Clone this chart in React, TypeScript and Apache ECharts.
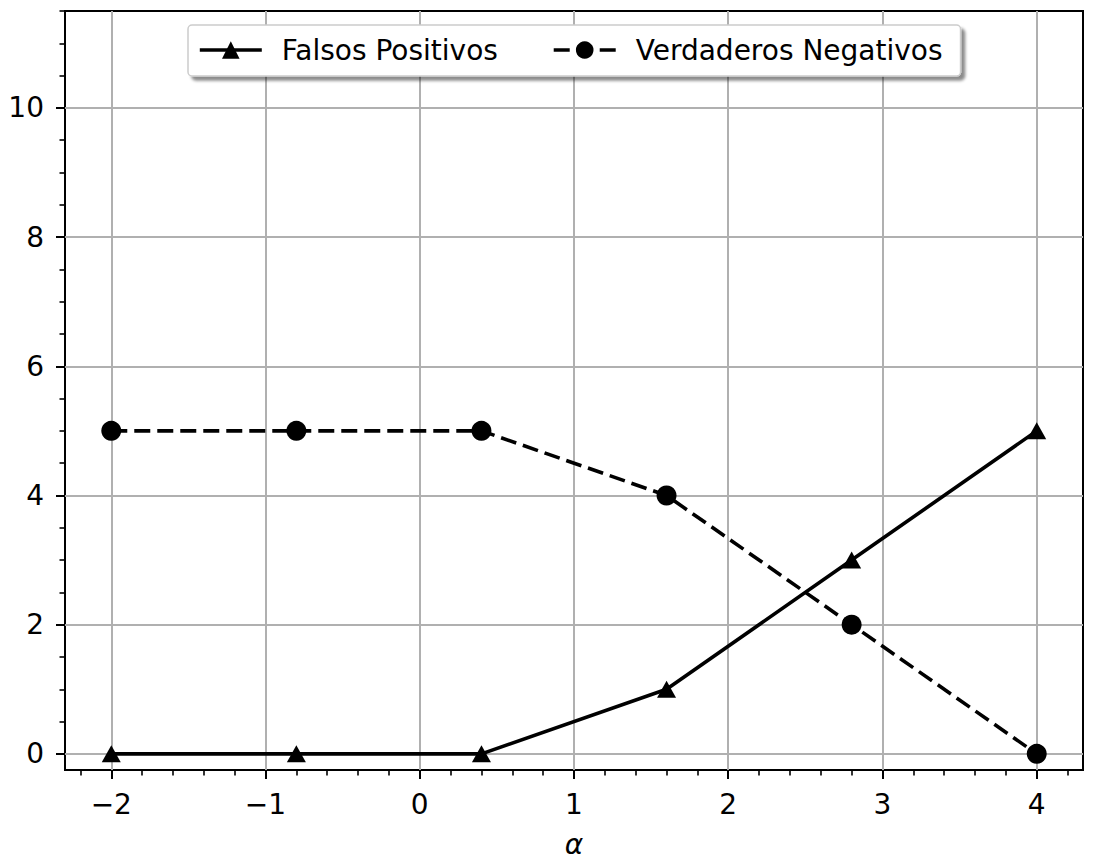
import { useEffect, useRef } from 'react';
import * as echarts from 'echarts';

// alpha values and counts
const alphas = [-2, -0.8, 0.4, 1.6, 2.8, 4];
const falsosPositivos = [0, 0, 0, 1, 3, 5];
const verdaderosNegativos = [5, 5, 5, 4, 2, 0];

const xMajor = [-2, -1, 0, 1, 2, 3, 4];
const xMinor = [-2.2, -1.8, -1.6, -1.4, -1.2, -0.8, -0.6, -0.4, -0.2, 0.2, 0.4, 0.6, 0.8,
  1.2, 1.4, 1.6, 1.8, 2.2, 2.4, 2.6, 2.8, 3.2, 3.4, 3.6, 3.8, 4.2];
const yMajor = [0, 2, 4, 6, 8, 10];
const yMinor = [0.5, 1, 1.5, 2.5, 3, 3.5, 4.5, 5, 5.5, 6.5, 7, 7.5, 8.5, 9, 9.5,
  10.5, 11, 11.5];

const FONT = 'DejaVu Sans';
const FS = 28;
const fmt = (v: number) => (v < 0 ? '\u2212' + Math.abs(v) : String(v));

export default function App() {
  const ref = useRef<HTMLDivElement | null>(null);

  useEffect(() => {
    document.body.style.margin = '0';
    if (!ref.current) return;
    const chart = echarts.init(ref.current, null, { renderer: 'svg' });

    const major = { show: true, inside: false, length: 9, lineStyle: { color: '#000', width: 2 } };
    const minor = { show: true, inside: false, length: 5.5, lineStyle: { color: '#000', width: 1.6 } };
    const grid = { show: true, lineStyle: { color: '#b0b0b0', width: 2 } };

    chart.setOption({
      animation: false,
      textStyle: { fontFamily: FONT },
      grid: {
        left: 65,
        right: 17,
        top: 11,
        bottom: 97,
        show: true,
        borderColor: '#000',
        borderWidth: 2,
        backgroundColor: 'transparent',
      },
      legend: {
        left: 188,
        top: 25,
        padding: [11, 18, 12, 10],
        itemWidth: 62,
        itemHeight: 22,
        itemGap: 54,
        backgroundColor: '#fff',
        borderColor: '#cccccc',
        borderWidth: 1.5,
        borderRadius: 4,
        shadowBlur: 3,
        shadowColor: 'rgba(0,0,0,0.45)',
        shadowOffsetX: 4,
        shadowOffsetY: 4,
        lineStyle: { width: 3.6 },
        textStyle: {
          fontFamily: FONT,
          fontSize: FS,
          color: '#000',
          padding: [0, 0, 0, 15],
        },
        data: ['Falsos Positivos', 'Verdaderos Negativos'],
      },
      xAxis: [
        {
          type: 'value',
          min: -2.3,
          max: 4.3,
          axisLine: { show: false, onZero: false },
          axisTick: { ...major, customValues: xMajor },
          axisLabel: {
            customValues: xMajor,
            formatter: fmt,
            fontFamily: FONT,
            fontSize: FS,
            color: '#000',
            margin: 20,
          },
          splitLine: grid,
          name: 'α',
          nameLocation: 'middle',
          nameGap: 60,
          nameTextStyle: { fontFamily: FONT, fontStyle: 'italic', fontSize: FS, color: '#000' },
        },
        {
          type: 'value',
          min: -2.3,
          max: 4.3,
          position: 'bottom',
          axisLine: { show: false, onZero: false },
          axisTick: { ...minor, customValues: xMinor },
          axisLabel: { show: false },
          splitLine: { show: false },
        },
      ],
      yAxis: [
        {
          type: 'value',
          min: -0.25,
          max: 11.5,
          axisLine: { show: false, onZero: false },
          axisTick: { ...major, customValues: yMajor },
          axisLabel: {
            customValues: yMajor,
            formatter: fmt,
            fontFamily: FONT,
            fontSize: FS,
            color: '#000',
            margin: 21,
          },
          splitLine: grid,
        },
        {
          type: 'value',
          min: -0.25,
          max: 11.5,
          position: 'left',
          axisLine: { show: false, onZero: false },
          axisTick: { ...minor, customValues: yMinor },
          axisLabel: { show: false },
          splitLine: { show: false },
        },
      ],
      series: [
        {
          name: 'Falsos Positivos',
          type: 'line',
          xAxisIndex: 0,
          yAxisIndex: 0,
          data: alphas.map((a, i) => [a, falsosPositivos[i]]),
          symbol: 'triangle',
          symbolSize: [19, 17],
          lineStyle: { color: '#000', width: 3.6 },
          itemStyle: { color: '#000' },
        },
        {
          name: 'Verdaderos Negativos',
          type: 'line',
          xAxisIndex: 0,
          yAxisIndex: 0,
          data: alphas.map((a, i) => [a, verdaderosNegativos[i]]),
          symbol: 'circle',
          symbolSize: 20,
          lineStyle: { color: '#000', width: 3.6, type: [16, 7] },
          itemStyle: { color: '#000' },
        },
      ],
    });

    return () => chart.dispose();
  }, []);

  return <div ref={ref} style={{ width: 1100, height: 867 }} />;
}
